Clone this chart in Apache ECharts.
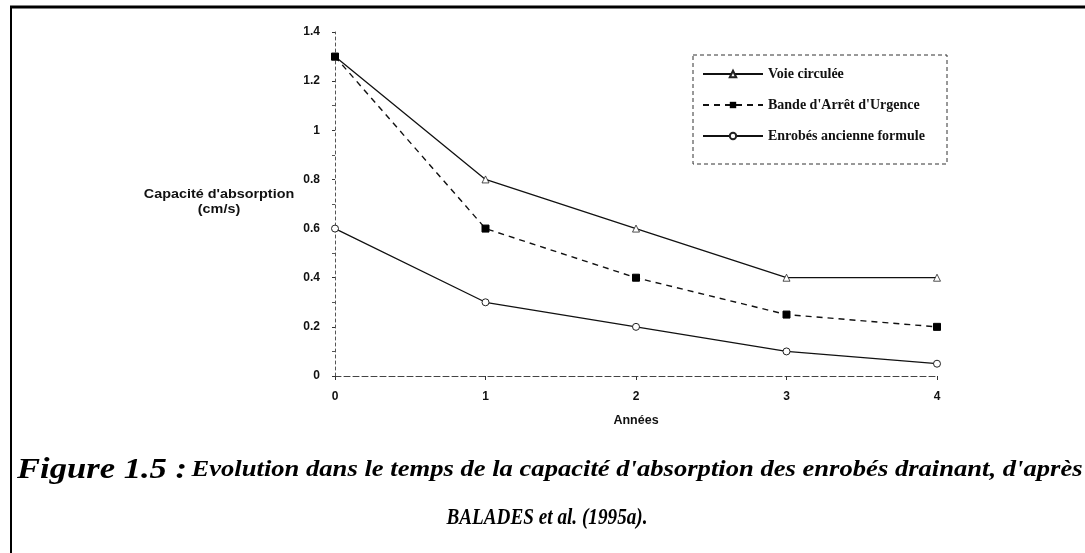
<!DOCTYPE html>
<html>
<head>
<meta charset="utf-8">
<script src="https://cdn.jsdelivr.net/npm/echarts@6/dist/echarts.min.js"></script>
<style>
  html, body { margin: 0; padding: 0; background: #fff; }
  #chart { width: 1085px; height: 553px; }
</style>
</head>
<body>
<div id="chart"></div>
<script>
  // données
  var annees = ['0', '1', '2', '3', '4'];
  var voieCirculee = [1.3, 0.8, 0.6, 0.4, 0.4];
  var bandeArret = [1.3, 0.6, 0.4, 0.25, 0.2];
  var enrobesAncienne = [0.6, 0.3, 0.2, 0.1, 0.05];
  var nomsSeries = ['Voie circulée', "Bande d'Arrêt d'Urgence", 'Enrobés ancienne formule'];

  var myChart = echarts.init(document.getElementById('chart'));
  var axisFont = { fontFamily: 'Liberation Sans, Arial', fontWeight: 'bold', fontSize: 12, color: '#111' };
  var capFont = 'Liberation Serif';

  var option = {
    backgroundColor: '#fff',
    animation: false,
    grid: { left: 335, right: 148, top: 32, bottom: 177 },
    legend: {
      orient: 'vertical',
      left: 697, top: 62,
      itemWidth: 60, itemHeight: 8, itemGap: 17,
      data: nomsSeries,
      textStyle: { fontFamily: capFont, fontWeight: 'bold', fontSize: 14, color: '#111' }
    },
    graphic: [
      // cadre de la figure
      { type: 'line', shape: { x1: 10, y1: 7, x2: 1085, y2: 7 }, style: { stroke: '#000', lineWidth: 3 } },
      { type: 'line', shape: { x1: 11, y1: 7, x2: 11, y2: 553 }, style: { stroke: '#000', lineWidth: 2 } },
      // cadre de la légende
      { type: 'rect', shape: { x: 693, y: 55, width: 254, height: 109 }, style: { fill: 'none', stroke: '#333', lineWidth: 1, lineDash: [4, 3] } },
      // titre de l'axe y
      {
        type: 'text', x: 219, y: 187, scaleX: 1.15,
        style: {
          text: 'Capacité d\'absorption\n(cm/s)', align: 'center', verticalAlign: 'top',
          font: 'bold 12.5px Liberation Sans, Arial', fill: '#111', lineHeight: 15
        }
      },
      // légende de la figure
      {
        type: 'text', x: 17, y: 470, scaleX: 1.33, scaleY: 1.15,
        style: {
          text: '{a|Figure 1.5 :} {b|Evolution dans le temps de la capacité d\'absorption des enrobés drainant, d\'après}',
          verticalAlign: 'middle', fill: '#000',
          rich: {
            a: { fontFamily: capFont, fontStyle: 'italic', fontWeight: 'bold', fontSize: 26, fill: '#000' },
            b: { fontFamily: capFont, fontStyle: 'italic', fontWeight: 'bold', fontSize: 20, fill: '#000' }
          }
        }
      },
      {
        type: 'text', x: 547, y: 518, scaleX: 0.96, scaleY: 1.15,
        style: {
          text: 'BALADES et al. (1995a).', align: 'center', verticalAlign: 'middle',
          font: 'italic bold 20px ' + capFont, fill: '#000'
        }
      }
    ],
    xAxis: {
      type: 'category',
      data: annees,
      boundaryGap: false,
      name: 'Années',
      nameLocation: 'middle',
      nameGap: 38,
      nameTextStyle: { fontFamily: 'Liberation Sans, Arial', fontWeight: 'bold', fontSize: 12.5, color: '#111' },
      axisLine: { lineStyle: { color: '#444', width: 1, type: [6, 3] } },
      axisTick: { length: 4, lineStyle: { color: '#333' } },
      axisLabel: Object.assign({ margin: 15 }, axisFont),
      splitLine: { show: false }
    },
    yAxis: {
      type: 'value',
      min: 0, max: 1.4, interval: 0.2,
      axisLine: { show: true, lineStyle: { color: '#555', width: 1, type: [3, 3] } },
      axisTick: { show: true, length: 3, lineStyle: { color: '#333' } },
      minorTick: { show: true, splitNumber: 2, length: 3, lineStyle: { color: '#555' } },
      axisLabel: Object.assign({ margin: 15 }, axisFont),
      splitLine: { show: false }
    },
    series: [
      {
        name: nomsSeries[0], type: 'line', data: voieCirculee,
        symbol: 'triangle', symbolSize: 7, z: 2,
        lineStyle: { color: '#111', width: 1.3 },
        itemStyle: { color: '#fff', borderColor: '#222', borderWidth: 0.8 }
      },
      {
        name: nomsSeries[1], type: 'line', data: bandeArret,
        symbol: 'rect', symbolSize: 7, z: 4,
        lineStyle: { color: '#111', width: 1.4, type: [6, 5] },
        itemStyle: { color: '#000', borderColor: '#000' }
      },
      {
        name: nomsSeries[2], type: 'line', data: enrobesAncienne,
        symbol: 'circle', symbolSize: 7, z: 3,
        lineStyle: { color: '#111', width: 1.3 },
        itemStyle: { color: '#fff', borderColor: '#222', borderWidth: 1 }
      }
    ]
  };
  myChart.setOption(option);
</script>
</body>
</html>
